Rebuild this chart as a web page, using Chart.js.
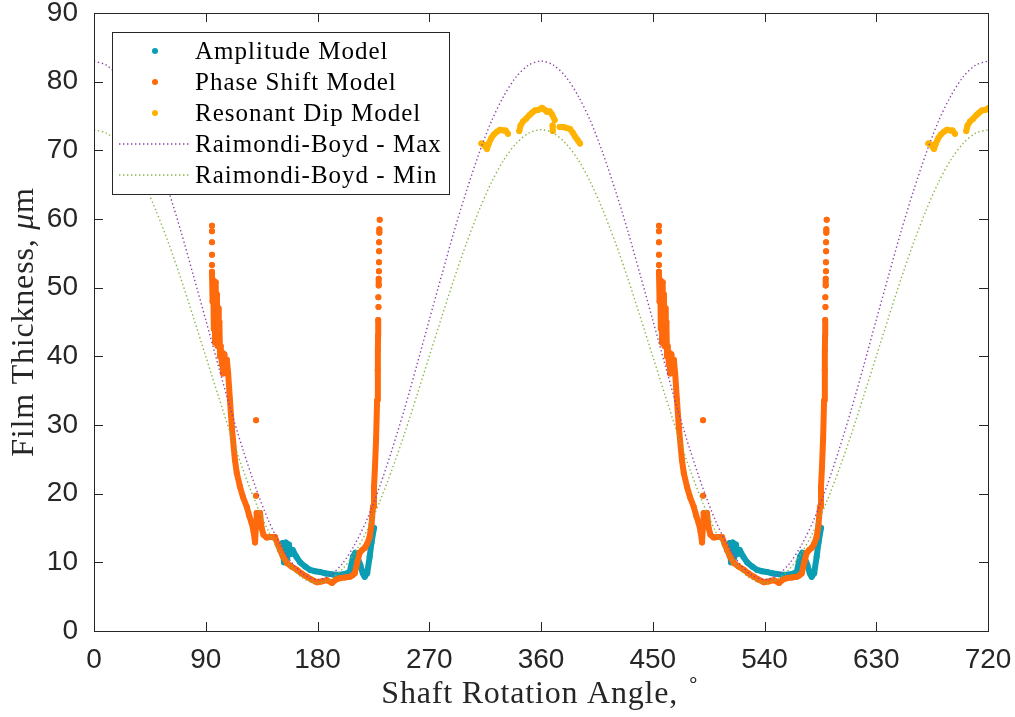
<!DOCTYPE html>
<html>
<head>
<meta charset="utf-8">
<script src="https://cdn.jsdelivr.net/npm/chart.js@4"></script>
<style>
  html, body { margin: 0; padding: 0; background: #fff; }
</style>
</head>
<body>
<canvas id="chart" width="1015" height="717"></canvas>
<script>
// Data for one shaft revolution (deg, um); the plot shows it twice (0-360, 360-720)
const ampAngle = [152, 153, 154.5, 155.5, 157, 158.5, 160, 163, 166, 170, 174, 178, 182, 186, 190, 194, 198, 202, 206, 208.6, 210.5, 212.5, 214.5, 216.5, 218, 220, 222, 223.5, 225.5];
const ampThick = [12.8, 10.0, 12.9, 10.6, 12.6, 11.2, 11.8, 10.8, 10.0, 9.4, 8.9, 8.7, 8.6, 8.4, 8.3, 8.2, 8.2, 8.3, 8.6, 10.8, 11.4, 10.6, 9.6, 8.4, 7.9, 8.4, 10.8, 12.9, 15.0];

const phaseAngle = [95, 95, 95, 95, 95, 95, 95, 95, 95, 95,
  95, 95.5, 96, 96.5, 97, 97.5, 98, 98.5, 99, 99.5, 100, 100.5, 101, 101.5, 102, 103, 103.5, 104, 105, 106, 107, 108,
  109.5, 111, 113.5, 115, 117.6, 120, 123, 125, 127, 128.5, 129.7, 130.5, 131, 132.5, 133.7, 135, 136.5, 139, 142, 145.8,
  148, 149.8, 152, 155.4, 159, 163.5, 167, 171.5, 175, 179.6, 183, 187.6, 191.7, 195, 198, 202, 206, 208, 210, 212,
  214, 216, 218, 220, 222, 223.5, 224.7, 225.5, 226.3, 227.2, 228, 228.5, 228.7, 228.8, 228.9, 228.9,
  229.1, 229.1, 229, 229, 229.3, 229.3, 229.3, 229.5, 229.5, 229.5, 229.5, 229.6, 229.6, 229.6, 229.6, 229.8, 229.8, 229.8, 230.1,
  230.1, 130.5, 130.5, 130.5];
const phaseThick = [59.0, null, 58.2, null, 56.6, null, 54.8, null, 53.3, null,
  52.3, 48.0, 51.0, 44.0, 50.5, 42.0, 50.8, 45.0, 49.0, 41.5, 47.0, 44.0, 45.0, 40.0, 41.5, 38.8, 40.5, 37.5, 40.3, 38.5, 39.5, 37.6,
  33.6, 29.7, 24.9, 23.0, 21.0, 19.5, 18.1, 16.8, 15.7, 14.5, 12.9, 15.5, 17.2, 16.6, 17.2, 15.0, 14.0, 13.6, 13.7, 13.7,
  12.6, 11.8, 10.9, 9.9, 9.4, 8.9, 8.4, 7.9, 7.5, 7.1, 7.2, 7.4, 7.0, 7.5, 7.7, 7.8, 7.9, 8.1, 8.4, 10.0,
  11.4, 11.8, 12.1, 12.7, 13.7, 15.5, 18.1, 21.0, 23.9, 28.0, 33.6, 38.0, 40.9, 43.0, 45.3, null,
  47.2, null, 48.6, null, 50.3, 51.3, null, 52.4, null, 53.7, null, 55.3, null, 56.6, null, 58.0, 58.5, null, 59.9,
  null, 30.7, null, 19.7];

const dipAngle = [312, 314, 316.5, 318, 320, 322, 324.5, 327, 329.4, 331.5, 333.4, 333.4,
  342.5, 343.5, 345.5, 348, 351, 353, 355, 358, 360.8, 363, 364.8, 367, 369, 371, 371,
  369.3, 369.5, 369.5, 375, 377.7, 380, 383.4, 385.5, 387.4, 389.5, 391.4];
const dipThick = [71.0, 70.8, 70.2, 71.0, 71.8, 72.3, 72.7, 73.0, 72.9, 72.9, 72.4, null,
  72.8, 73.6, 74.2, 74.6, 75.2, 75.5, 75.8, 75.9, 76.2, 75.9, 75.6, 75.7, 75.2, 74.4, null,
  73.6, 72.8, null, 73.4, 73.4, 73.3, 73.1, 72.6, 72.0, 71.5, 71.0];

const rbAngle = [0, 10, 20, 30, 40, 50, 60, 70, 80, 90, 100, 110, 120, 130, 140, 150, 160, 170, 180,
  190, 200, 210, 220, 230, 240, 250, 260, 270, 280, 290, 300, 310, 320, 330, 340, 350, 360];
const rbMax = [83.0, 82.4, 80.7, 77.9, 74.2, 69.5, 64.1, 58.2, 51.8, 45.3, 38.7, 32.3, 26.4, 21.0, 16.3, 12.6, 9.8, 8.1, 7.5,
  8.1, 9.8, 12.6, 16.3, 21.0, 26.4, 32.3, 38.7, 45.3, 51.8, 58.2, 64.1, 69.5, 74.2, 77.9, 80.7, 82.4, 83.0];
const rbMin = [73.0, 72.5, 71.0, 68.6, 65.3, 61.2, 56.5, 51.3, 45.7, 40.0, 34.3, 28.7, 23.5, 18.8, 14.7, 11.4, 9.0, 7.5, 7.0,
  7.5, 9.0, 11.4, 14.7, 18.8, 23.5, 28.7, 34.3, 40.0, 45.7, 51.3, 56.5, 61.2, 65.3, 68.6, 71.0, 72.5, 73.0];

const xTicks = [0, 90, 180, 270, 360, 450, 540, 630, 720];
const yTicks = [0, 10, 20, 30, 40, 50, 60, 70, 80, 90];

const seriesNames = ['Amplitude Model', 'Phase Shift Model', 'Resonant Dip Model', 'Raimondi-Boyd - Max', 'Raimondi-Boyd - Min'];
const seriesColors = ['#0b9db4', '#ff6a0d', '#ffb300', '#8e44a8', '#86b544'];

// measured cycle repeated on the second revolution, with a break between
function twoRevs(angles, values) {
  const pts = [];
  [0, 360].forEach(shift => {
    angles.forEach((a, i) => pts.push({ x: a + shift, y: values[i] }));
    pts.push({ x: angles[angles.length - 1] + shift, y: null });
  });
  return pts;
}
function rbCurve(values) {
  const pts = rbAngle.map((a, i) => ({ x: a, y: values[i] }));
  rbAngle.slice(1).forEach((a, i) => pts.push({ x: a + 360, y: values[i + 1] }));
  return pts;
}

function markerSet(i, data, order) {
  return {
    label: seriesNames[i], data, order,
    showLine: true, borderColor: seriesColors[i], backgroundColor: seriesColors[i],
    borderWidth: 6, pointRadius: 3, pointHoverRadius: 3, pointBorderWidth: 0,
    borderCapStyle: 'round', borderJoinStyle: 'round', spanGaps: false, clip: 0
  };
}
function rbSet(i, data, order) {
  return {
    label: seriesNames[i], data, order,
    showLine: true, borderColor: seriesColors[i], borderWidth: 1.4, borderDash: [1.4, 2.6],
    pointRadius: 0, tension: 0.3, clip: 0
  };
}

// MATLAB style box with inward ticks on all sides
const framePlugin = {
  id: 'frame',
  afterDatasetsDraw(chart) {
    const { ctx, chartArea: a, scales: { x, y } } = chart;
    ctx.save();
    ctx.strokeStyle = '#262626';
    ctx.lineWidth = 1;
    ctx.beginPath();
    xTicks.forEach(v => {
      const px = Math.round(x.getPixelForValue(v)) + 0.5;
      ctx.moveTo(px, a.bottom); ctx.lineTo(px, a.bottom - 9);
      ctx.moveTo(px, a.top); ctx.lineTo(px, a.top + 9);
    });
    yTicks.forEach(v => {
      const py = Math.round(y.getPixelForValue(v)) + 0.5;
      ctx.moveTo(a.left, py); ctx.lineTo(a.left + 9, py);
      ctx.moveTo(a.right, py); ctx.lineTo(a.right - 9, py);
    });
    ctx.stroke();
    ctx.strokeRect(Math.round(a.left) + 0.5, Math.round(a.top) + 0.5, Math.round(a.width), Math.round(a.height));
    ctx.restore();
  }
};

// axis titles (LaTeX look: italic mu, superscript degree)
const titlePlugin = {
  id: 'axisTitles',
  afterDraw(chart) {
    const { ctx, chartArea: a } = chart;
    const roman = '32px "Liberation Serif", serif';
    const small = '20px "Liberation Serif", serif';
    ctx.save();
    ctx.fillStyle = '#262626';
    ctx.letterSpacing = '0.8px';
    ctx.textBaseline = 'middle';
    ctx.textAlign = 'left';

    // x title
    ctx.font = roman;
    const xt = 'Shaft Rotation Angle, ';
    const w1 = ctx.measureText(xt).width;
    ctx.font = small;
    const w2 = ctx.measureText('\u2218').width;
    const sx = (a.left + a.right) / 2 - (w1 + w2) / 2;
    ctx.font = roman;
    ctx.fillText(xt, sx, 695);
    ctx.font = small;
    ctx.fillText('\u2218', sx + w1, 682);

    // y title
    ctx.translate(25, (a.top + a.bottom) / 2);
    ctx.rotate(-Math.PI / 2);
    const parts = [['Film Thickness, ', roman], ['\u03bc', 'italic ' + roman], ['m', roman]];
    let total = 0;
    parts.forEach(p => { ctx.font = p[1]; total += ctx.measureText(p[0]).width; });
    let cx = -total / 2;
    parts.forEach(p => { ctx.font = p[1]; ctx.fillText(p[0], cx, 0); cx += ctx.measureText(p[0]).width; });
    ctx.restore();
  }
};

// boxed legend in the upper left of the axes
const legendPlugin = {
  id: 'boxLegend',
  afterDraw(chart) {
    const { ctx, chartArea: a } = chart;
    const left = a.left + 18, top = a.top + 19, w = 337, h = 162;
    ctx.save();
    ctx.fillStyle = '#fff';
    ctx.fillRect(left, top, w, h);
    ctx.strokeStyle = '#262626';
    ctx.lineWidth = 1;
    ctx.strokeRect(left + 0.5, top + 0.5, w, h);
    ctx.font = '25px "Liberation Serif", serif';
    ctx.letterSpacing = '1px';
    ctx.textBaseline = 'middle';
    chart.data.datasets.forEach((ds, i) => {
      const cy = top + 19 + i * 31;
      if (ds.pointRadius > 0) {
        ctx.fillStyle = ds.borderColor;
        ctx.beginPath();
        ctx.arc(left + 43, cy, 3, 0, Math.PI * 2);
        ctx.fill();
      } else {
        ctx.strokeStyle = ds.borderColor;
        ctx.lineWidth = ds.borderWidth;
        ctx.setLineDash(ds.borderDash);
        ctx.beginPath();
        ctx.moveTo(left + 7, cy);
        ctx.lineTo(left + 77, cy);
        ctx.stroke();
        ctx.setLineDash([]);
      }
      ctx.fillStyle = '#000';
      ctx.fillText(ds.label, left + 83, cy + 1);
    });
    ctx.restore();
  }
};

const tickFont = { family: '"Liberation Sans", Arial, sans-serif', size: 28 };

new Chart(document.getElementById('chart'), {
  type: 'scatter',
  data: {
    datasets: [
      markerSet(0, twoRevs(ampAngle, ampThick), 5),
      markerSet(1, twoRevs(phaseAngle, phaseThick), 4),
      markerSet(2, twoRevs(dipAngle, dipThick), 3),
      rbSet(3, rbCurve(rbMax), 2),
      rbSet(4, rbCurve(rbMin), 1)
    ]
  },
  options: {
    responsive: false,
    animation: false,
    devicePixelRatio: 1,
    layout: { padding: { top: 13, right: 27, bottom: 0, left: 0 } },
    plugins: { legend: { display: false }, tooltip: { enabled: false } },
    scales: {
      x: {
        type: 'linear', min: 0, max: 720,
        afterBuildTicks: s => { s.ticks = xTicks.map(v => ({ value: v })); },
        afterFit: s => { s.height = 86; s.paddingLeft = 0; s.paddingRight = 0; },
        grid: { display: false, drawTicks: false },
        border: { display: false },
        ticks: { padding: 12, color: '#262626', font: tickFont }
      },
      y: {
        type: 'linear', min: 0, max: 90,
        afterBuildTicks: s => { s.ticks = yTicks.map(v => ({ value: v })); },
        afterFit: s => { s.width = 94; s.paddingTop = 0; s.paddingBottom = 0; },
        grid: { display: false, drawTicks: false },
        border: { display: false },
        ticks: { padding: 16, color: '#262626', font: tickFont }
      }
    }
  },
  plugins: [framePlugin, titlePlugin, legendPlugin]
});
</script>
</body>
</html>
